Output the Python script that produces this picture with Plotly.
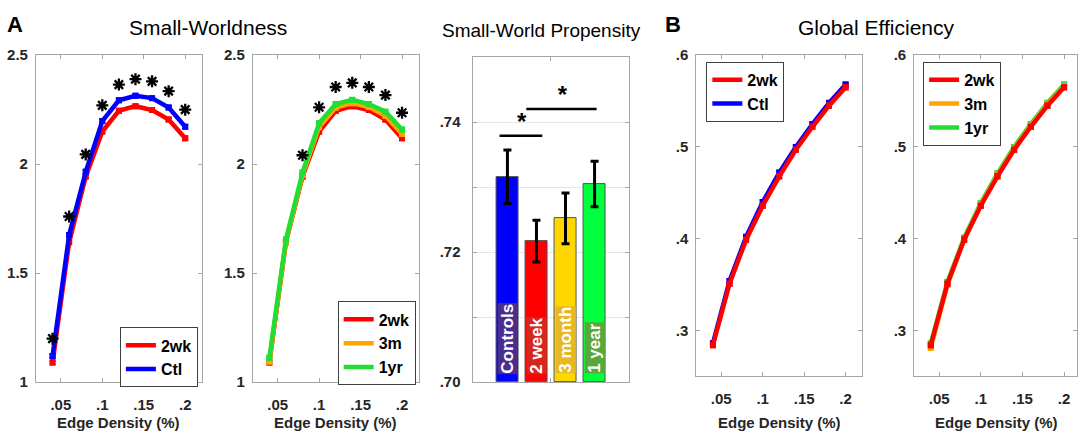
import plotly.graph_objects as go

W, H = 1078, 447

# ---------------- data ----------------
density = [0.04, 0.06, 0.08, 0.10, 0.12, 0.14, 0.16, 0.18, 0.20]
density_ticks = [0.05, 0.10, 0.15, 0.20]
density_ticktext = [".05", ".1", ".15", ".2"]

sw_ctl = [1.12, 1.675, 1.965, 2.198, 2.293, 2.314, 2.303, 2.260, 2.172]
sw_2wk = [1.09, 1.642, 1.943, 2.150, 2.245, 2.266, 2.248, 2.205, 2.119]
sw_3m = [1.095, 1.645, 1.950, 2.170, 2.260, 2.280, 2.262, 2.222, 2.138]
sw_1yr = [1.112, 1.655, 1.962, 2.188, 2.276, 2.295, 2.276, 2.241, 2.159]
sw_err = [0.008, 0.008, 0.008, 0.008, 0.008, 0.008, 0.008, 0.008, 0.008]

stars_a1_x = [0.04, 0.06, 0.08, 0.10, 0.12, 0.14, 0.16, 0.18, 0.20]
stars_a1_y = [1.20, 1.76, 2.045, 2.27, 2.365, 2.39, 2.38, 2.335, 2.25]
stars_a2_x = [0.08, 0.10, 0.12, 0.14, 0.16, 0.18, 0.20]
stars_a2_y = [2.041, 2.261, 2.354, 2.373, 2.354, 2.317, 2.236]

sw_yticks = [1, 1.5, 2, 2.5]
sw_yticktext = ["1", "1.5", "2", "2.5"]

swp_groups = ["Controls", "2 week", "3 month", "1 year"]
swp_pos = [1, 2, 3, 4]
swp_mean = [0.7316, 0.7217, 0.7252, 0.7305]
swp_err = [0.0041, 0.0032, 0.0039, 0.0035]
swp_colors = ["#0000FF", "#FF0000", "#FFD700", "#00FF3C"]
swp_label_bg = ["#4B2D8F", "#D7261E", "#E8B820", "#5BA83A"]
swp_yticks = [0.70, 0.71, 0.72, 0.73, 0.74]
swp_yticktext = [".70", "", ".72", "", ".74"]
sig_x0 = [0.73, 1.65]
sig_x1 = [2.2, 4.07]
sig_y = [0.7379, 0.7420]
sig_star_x = [1.49, 2.89]
sig_star_y = [0.7397, 0.7438]

ge_ctl = [0.286, 0.354, 0.402, 0.440, 0.472, 0.500, 0.525, 0.548, 0.568]
ge_2wk = [0.284, 0.351, 0.399, 0.436, 0.468, 0.497, 0.522, 0.545, 0.565]
ge_3m = [0.281, 0.350, 0.399, 0.437, 0.469, 0.498, 0.523, 0.546, 0.566]
ge_1yr = [0.286, 0.353, 0.401, 0.439, 0.471, 0.500, 0.525, 0.548, 0.568]
ge_err = [0.002, 0.002, 0.002, 0.002, 0.002, 0.002, 0.002, 0.002, 0.002]
ge_yticks = [0.3, 0.4, 0.5, 0.6]
ge_yticktext = [".3", ".4", ".5", ".6"]

RED = "#FF0000"
BLUE = "#0000FF"
ORANGE = "#FFA500"
GREEN = "#22DD33"

FONT = "Liberation Sans, Arial, sans-serif"
TXT = "#262626"

# ---------------- layout helpers ----------------
def xdom(a, b):
    return [a / W, b / W]

def ydom(top, bottom):
    return [1 - bottom / H, 1 - top / H]

panels = {
    1: dict(x=xdom(36, 202), y=ydom(48, 388)),
    2: dict(x=xdom(253, 419), y=ydom(48, 388)),
    3: dict(x=xdom(473, 630), y=ydom(50, 388)),
    4: dict(x=xdom(697, 863), y=ydom(48, 382)),
    5: dict(x=xdom(915, 1078), y=ydom(48, 382)),
}

fig = go.Figure()

def sfx(i):
    return "" if i == 1 else str(i)

def add_series(i, xs, ys, err, color, name, legend, rank, width=4.5):
    xa, ya = "x" + sfx(i), "y" + sfx(i)
    fig.add_trace(go.Scatter(
        x=xs, y=ys, mode="lines", name=name, legend=legend, legendrank=rank,
        line=dict(color=color, width=width), xaxis=xa, yaxis=ya,
    ))
    fig.add_trace(go.Scatter(
        x=xs, y=ys, mode="markers", showlegend=False,
        marker=dict(symbol="square", size=6, color=color),
        error_y=dict(type="data", array=err, color=color, thickness=2.5, width=3),
        xaxis=xa, yaxis=ya,
    ))

def add_stars(i, xs, ys):
    fig.add_trace(go.Scatter(
        x=xs, y=ys, mode="markers", showlegend=False,
        marker=dict(symbol="asterisk-open", size=10, color="black",
                    line=dict(color="black", width=2.3)),
        xaxis="x" + sfx(i), yaxis="y" + sfx(i),
    ))

# Panel 1: 2wk vs Ctl small-worldness
add_series(1, density, sw_2wk, sw_err, RED, "2wk", "legend", 1)
add_series(1, density, sw_ctl, sw_err, BLUE, "Ctl", "legend", 2)
add_stars(1, stars_a1_x, stars_a1_y)

# Panel 2: 2wk, 3m, 1yr small-worldness
add_series(2, density, sw_2wk, sw_err, RED, "2wk", "legend2", 1)
add_series(2, density, sw_3m, sw_err, ORANGE, "3m", "legend2", 2)
add_series(2, density, sw_1yr, sw_err, GREEN, "1yr", "legend2", 3)
add_stars(2, stars_a2_x, stars_a2_y)

# Panel 3: small-world propensity bars
fig.add_trace(go.Bar(
    x=swp_pos, y=[m - 0.70 for m in swp_mean], base=0.70, width=0.78,
    marker=dict(color=swp_colors, line=dict(color="#555555", width=1)),
    error_y=dict(type="data", array=swp_err, color="black", thickness=3, width=4),
    showlegend=False, xaxis="x3", yaxis="y3",
))
for x0, x1, yv in zip(sig_x0, sig_x1, sig_y):
    fig.add_trace(go.Scatter(
        x=[x0, x1], y=[yv, yv], mode="lines", showlegend=False,
        line=dict(color="black", width=2.5), xaxis="x3", yaxis="y3",
    ))
fig.add_trace(go.Scatter(
    x=sig_star_x, y=sig_star_y, mode="text", text=["*"] * len(sig_star_x),
    textposition="middle center", showlegend=False,
    textfont=dict(family=FONT, size=24, color="black", weight="bold"),
    xaxis="x3", yaxis="y3",
))

# Panel 4: global efficiency 2wk vs Ctl
add_series(4, density, ge_ctl, ge_err, BLUE, "Ctl", "legend3", 2)
add_series(4, density, ge_2wk, ge_err, RED, "2wk", "legend3", 1)

# Panel 5: global efficiency 2wk, 3m, 1yr
add_series(5, density, ge_1yr, ge_err, GREEN, "1yr", "legend4", 3)
add_series(5, density, ge_3m, ge_err, ORANGE, "3m", "legend4", 2)
add_series(5, density, ge_2wk, ge_err, RED, "2wk", "legend4", 1)

# ---------------- axes ----------------
axis_common = dict(
    showline=True, linecolor="#A6A6A6", linewidth=1, mirror="ticks",
    ticks="inside", ticklen=4, tickcolor="#A6A6A6", zeroline=False,
    showgrid=False, fixedrange=True,
    tickfont=dict(family=FONT, size=15, color=TXT, weight="bold"),
)

layout = dict(
    width=W, height=H, margin=dict(l=0, r=0, t=0, b=0),
    paper_bgcolor="white", plot_bgcolor="white", bargap=0,
    font=dict(family=FONT, color=TXT),
)

for i in [1, 2, 4, 5]:
    rng_x = [0.02, 0.22] if i != 5 else [0.02, 0.2155]
    layout["xaxis" + sfx(i)] = dict(
        axis_common, domain=panels[i]["x"], anchor="y" + sfx(i), range=rng_x,
        tickvals=density_ticks, ticktext=density_ticktext, ticklabelstandoff=9,
    )
for i in [1, 2]:
    layout["yaxis" + sfx(i)] = dict(
        axis_common, domain=panels[i]["y"], anchor="x" + sfx(i), range=[1, 2.5],
        tickvals=sw_yticks, ticktext=sw_yticktext, ticklabelstandoff=4,
    )
for i in [4, 5]:
    layout["yaxis" + sfx(i)] = dict(
        axis_common, domain=panels[i]["y"], anchor="x" + sfx(i), range=[0.25, 0.6],
        tickvals=ge_yticks, ticktext=ge_yticktext, ticklabelstandoff=4,
    )
layout["xaxis3"] = dict(
    axis_common, domain=panels[3]["x"], anchor="y3", range=[-0.2, 5.2],
    tickvals=[2.5], ticktext=[""],
)
layout["yaxis3"] = dict(
    axis_common, domain=panels[3]["y"], anchor="x3", range=[0.70, 0.75],
    tickvals=swp_yticks, ticktext=swp_yticktext, showgrid=True,
    gridcolor="#E6E6E6", gridwidth=1, ticklabelstandoff=8,
)

# ---------------- legends ----------------
def legend_at(xp, yp):
    return dict(
        x=xp / W, y=1 - yp / H, xanchor="left", yanchor="top",
        bgcolor="white", bordercolor="#404040", borderwidth=1,
        font=dict(family=FONT, size=16, color="black", weight="bold"),
        itemwidth=30, tracegroupgap=0, traceorder="normal",
    )

layout["legend"] = legend_at(120, 331)
layout["legend2"] = legend_at(338, 304)
layout["legend3"] = legend_at(707, 55)
layout["legend4"] = legend_at(924, 55)

fig.update_layout(**layout)

# ---------------- text annotations ----------------
def ann(text, xp, yp, size, bold=False, color="black"):
    fig.add_annotation(
        text=text, x=xp / W, y=1 - yp / H, xref="paper", yref="paper",
        xanchor="center", yanchor="middle", showarrow=False,
        font=dict(family=FONT, size=size, color=color,
                  weight="bold" if bold else "normal"),
    )

ann("A", 15, 16, 22, bold=True)
ann("B", 674, 16, 22, bold=True)
ann("Small-Worldness", 208, 19, 21)
ann("Small-World Propensity", 542, 22, 19)
ann("Global Efficiency", 877, 19, 21)
for cx in [119, 336, 780, 997]:
    ann("Edge Density (%)", cx, 430, 15, bold=True, color=TXT)

for xp, lab, bg in zip(swp_pos, swp_groups, swp_label_bg):
    fig.add_annotation(
        text=lab, x=xp, y=0.70, xref="x3", yref="y3", textangle=-90,
        xanchor="center", yanchor="bottom", yshift=8, showarrow=False,
        bgcolor=bg, borderpad=0,
        font=dict(family=FONT, size=17, color="white", weight="bold"),
    )

fig.write_html("out.html")
